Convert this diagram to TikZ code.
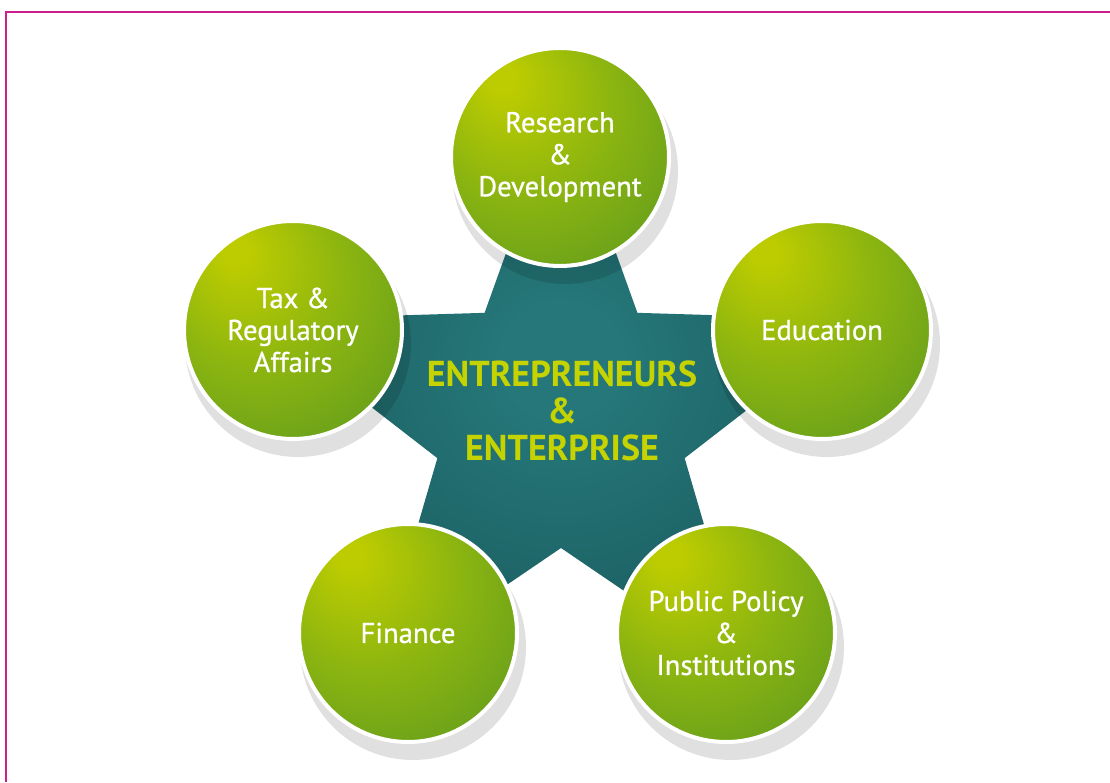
\documentclass[tikz,border=0pt]{standalone}
\usepackage{fontspec}
\setmainfont{PT Sans}
\newfontfamily\ballfont[FakeBold=0.8]{PT Sans}
\usepackage{xcolor}
\usepackage{tikz}

\definecolor{framepink}{RGB}{204,30,140}
\definecolor{tealdark}{RGB}{25,88,91}
\definecolor{teallight}{RGB}{37,119,121}
\definecolor{limehi}{RGB}{189,204,0}
\definecolor{midgreen}{RGB}{140,181,16}
\definecolor{leafgreen}{RGB}{92,153,31}
\definecolor{titlelime}{RGB}{197,211,0}

\pgfdeclareradialshading{greenball}{\pgfpoint{-14bp}{19bp}}{color(0bp)=(limehi); color(3bp)=(limehi); color(21bp)=(midgreen); color(43bp)=(leafgreen); color(60bp)=(leafgreen)}
\pgfdeclareradialshading{tealstar}{\pgfpoint{0bp}{3bp}}{color(0bp)=(teallight); color(5bp)=(teallight); color(28bp)=(tealdark)}

\tikzset{
	ball/.style={circle, minimum size=163.5pt, inner sep=0pt, shading=greenball, draw=white, line width=3pt,
		text=white, align=center, font=\ballfont\fontsize{21.5}{24}\selectfont},
	ballshadow/.style={fill=black, opacity=0.12},
	core/.style={text=titlelime, align=center, font=\bfseries\fontsize{27}{27.5}\selectfont}
}

\begin{document}
\begin{tikzpicture}[x=0.75pt,y=0.75pt]
				\useasboundingbox (0,0) rectangle (1110,782);
				\fill[white] (0,0) rectangle (1110,782);
				\draw[framepink, line width=1.5pt] (6,0) -- (6,770) -- (1110,770);

				\begin{scope}[shift={(561,364)}]
					\shade[shading=tealstar] (90:318) \foreach \a in {90,162,234,306} {-- (\a+36:130) -- (\a+72:318)} -- (54:130) -- cycle;
				\end{scope}

				\foreach \x/\y in {560/625, 822/452, 293/452, 408/149, 726/149}
					\fill[ballshadow] (\x+5,\y-14) circle (113);

				\node[ball] (rd) at (560,625) {Research\\\&\\Development};
				\node[ball] (edu) at (822,452) {Education};
				\node[ball] (tax) at (293,452) {Tax \&\\Regulatory\\Affairs};
				\node[ball] (fin) at (408,149) {Finance};
				\node[ball] (pub) at (726,149) {Public Policy\\\&\\Institutions};

				\node[core] (core) at (562,371) {ENTREPRENEURS\\\&\\ENTERPRISE};
		\end{tikzpicture}
\end{document}
